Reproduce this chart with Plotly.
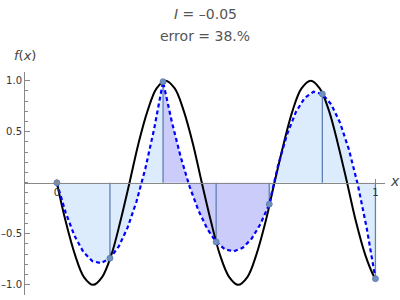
import plotly.graph_objects as go

# exact function f(x)
x_fine = [0.000, 0.028, 0.057, 0.085, 0.114, 0.142, 0.171, 0.199, 0.228, 0.256,
          0.285, 0.313, 0.341, 0.370, 0.398, 0.427, 0.455, 0.484, 0.512, 0.541,
          0.569, 0.598, 0.626, 0.655, 0.683, 0.712, 0.740, 0.768, 0.797, 0.825,
          0.854, 0.882, 0.911, 0.939, 0.968, 0.996, 1.000]
f_fine = [0.0, -0.383, -0.707, -0.924, -1.0, -0.924, -0.707, -0.383, 0.0, 0.383,
          0.707, 0.924, 1.0, 0.924, 0.707, 0.383, 0.0, -0.383, -0.707, -0.924,
          -1.0, -0.924, -0.707, -0.383, 0.0, 0.383, 0.707, 0.924, 1.0, 0.924,
          0.707, 0.383, 0.0, -0.383, -0.707, -0.924, -0.944]

# sample points
x_samples = [0, 1/6, 2/6, 3/6, 4/6, 5/6, 1]
f_samples = [0.0, -0.74, 0.99, -0.58, -0.21, 0.87, -0.94]

# piecewise interpolant (dashed), read at steps of 1/36
x_interp = [k / 36 for k in range(37)]
f_interp = [0.0, -0.295, -0.521, -0.679, -0.768, -0.788, -0.74, -0.623, -0.438, -0.184, 0.139, 0.530,
            0.99, 0.594, 0.251, -0.038, -0.272, -0.453, -0.58, -0.653, -0.672, -0.638, -0.549, -0.406,
            -0.21, 0.171, 0.471, 0.691, 0.831, 0.891, 0.87, 0.769, 0.588, 0.326, -0.016, -0.438,
            -0.94]
seg_colors = ["#dcecfc", "#ccccfa", "#dcecfc"]

y_tickvals = [-1.0, -0.5, 0.5, 1.0]
y_ticktext = ["\u20131.0", "\u20130.5", "0.5", "1.0"]
x_tickvals = [0, 1]
x_ticktext = ["0", "1"]

title_1 = "<i>I</i> = \u20130.05"
title_2 = "error = 38.%"

fig = go.Figure()

for s in range(3):
    i0, i1 = 12 * s, 12 * s + 13
    fig.add_trace(go.Scatter(x=x_interp[i0:i1], y=f_interp[i0:i1], mode="lines",
                             line=dict(width=0), fill="tozeroy",
                             fillcolor=seg_colors[s], hoverinfo="skip"))

vx, vy = [], []
for xs, fs in zip(x_samples, f_samples):
    vx += [xs, xs, None]
    vy += [0, fs, None]
fig.add_trace(go.Scatter(x=vx, y=vy, mode="lines",
                         line=dict(color="#5f80b2", width=1.3)))

fig.add_trace(go.Scatter(x=x_fine, y=f_fine, mode="lines",
                         line=dict(color="black", width=2, shape="spline", smoothing=1.0)))

fig.add_trace(go.Scatter(x=x_interp, y=f_interp, mode="lines",
                         line=dict(color="#0000ff", width=2.2, dash="4px,3px")))

fig.add_trace(go.Scatter(x=x_samples, y=f_samples, mode="markers",
                         marker=dict(color="#7090c0", size=6,
                                     line=dict(color="#5a78a8", width=0.8))))

fig.update_layout(
    width=400, height=300,
    margin=dict(l=25, r=15, t=72, b=5, autoexpand=False),
    paper_bgcolor="white", plot_bgcolor="white",
    showlegend=False,
    font=dict(family="DejaVu Sans", color="#333333"),
    xaxis=dict(range=[-0.1, 1.03], anchor="free", position=0.5034, automargin=False,
               showline=True, linecolor="#888888", linewidth=1,
               showgrid=False, zeroline=False,
               tickvals=x_tickvals, ticktext=x_ticktext,
               ticks="inside", ticklen=4, tickcolor="#888888",
               tickfont=dict(size=10, color="#333333")),
    yaxis=dict(range=[-1.1, 1.085], automargin=False,
               showline=True, linecolor="#888888", linewidth=1,
               showgrid=False, zeroline=False,
               tickvals=y_tickvals, ticktext=y_ticktext,
               ticks="inside", ticklen=5, tickcolor="#888888",
               tickfont=dict(size=10, color="#333333"),
               minor=dict(dtick=0.1, ticks="inside", ticklen=2.5, tickcolor="#888888",
                          showgrid=False)),
    annotations=[
        dict(text=title_1, x=0.5, y=(295 - 14) / 223, xref="paper", yref="paper",
             showarrow=False, font=dict(size=14, color="#555555"),
             xanchor="center", yanchor="middle"),
        dict(text=title_2, x=0.5, y=(295 - 36) / 223, xref="paper", yref="paper",
             showarrow=False, font=dict(size=14, color="#555555"),
             xanchor="center", yanchor="middle"),
        dict(text="<i>f</i>(<i>x</i>)", x=0.0, y=(295 - 55) / 223, xref="paper", yref="paper",
             showarrow=False, font=dict(size=13, color="#444444"),
             xanchor="center", yanchor="middle"),
        dict(text="<i>x</i>", x=1.0, y=0, xref="paper", yref="y",
             showarrow=False, font=dict(size=14, color="#444444"),
             xanchor="left", yanchor="middle", xshift=3, yshift=2),
    ],
)

fig.write_html("out.html")
